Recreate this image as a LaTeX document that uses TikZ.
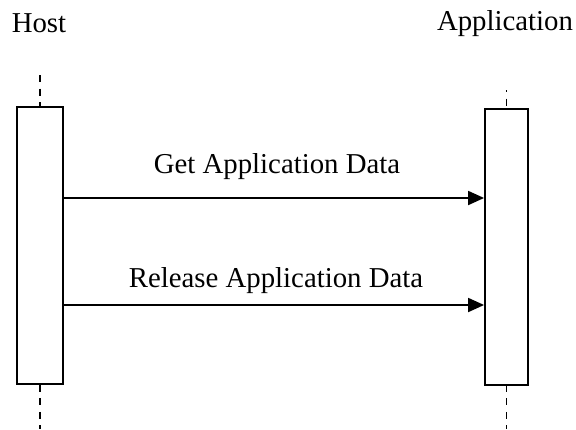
\documentclass[tikz,border=0pt]{standalone}
\usepackage{fontspec}
\setmainfont{Liberation Serif}
\usetikzlibrary{arrows.meta}
\begin{document}
\begin{tikzpicture}[x=1pt,y=-1pt,
  lifebox/.style={draw, line width=1.8pt, fill=white, inner sep=0pt},
  lifeline/.style={line width=1.8pt, dash pattern=on 7pt off 6.5pt},
  msg/.style={line width=1.8pt, -{Triangle[length=16pt,width=14pt]}},
  lbl/.style={anchor=base, inner sep=0pt, font=\fontsize{28.8}{34}\selectfont}]
\useasboundingbox (0,0) rectangle (576,429);
\node[lbl] (host) at (39,32) {Host};
\node[lbl] (app) at (505,30) {Application};
\node[lifebox, minimum width=46, minimum height=277] (hb) at (40,245.5) {};
\node[lifebox, minimum width=43, minimum height=276] (ab) at (506.5,247) {};
\coordinate (htop) at (40,75);
\coordinate (hbot) at (40,429);
\coordinate (atop) at (506.5,90);
\coordinate (abot) at (506.5,429);
\draw[lifeline] (htop) -- (hb.north);
\draw[lifeline] (hb.south) -- (hbot);
\draw[lifeline, dash phase=5pt] (atop) -- (ab.north);
\draw[lifeline, dash phase=1pt] (ab.south) -- (abot);
\coordinate (m1) at (0,198);
\coordinate (m2) at (0,305);
\draw[msg] (hb.east |- m1) -- (ab.west |- m1);
\draw[msg] (hb.east |- m2) -- (ab.west |- m2);
\node[lbl] (l1) at (277,173) {Get Application Data};
\node[lbl] (l2) at (276,287) {Release Application Data};
\end{tikzpicture}
\end{document}
